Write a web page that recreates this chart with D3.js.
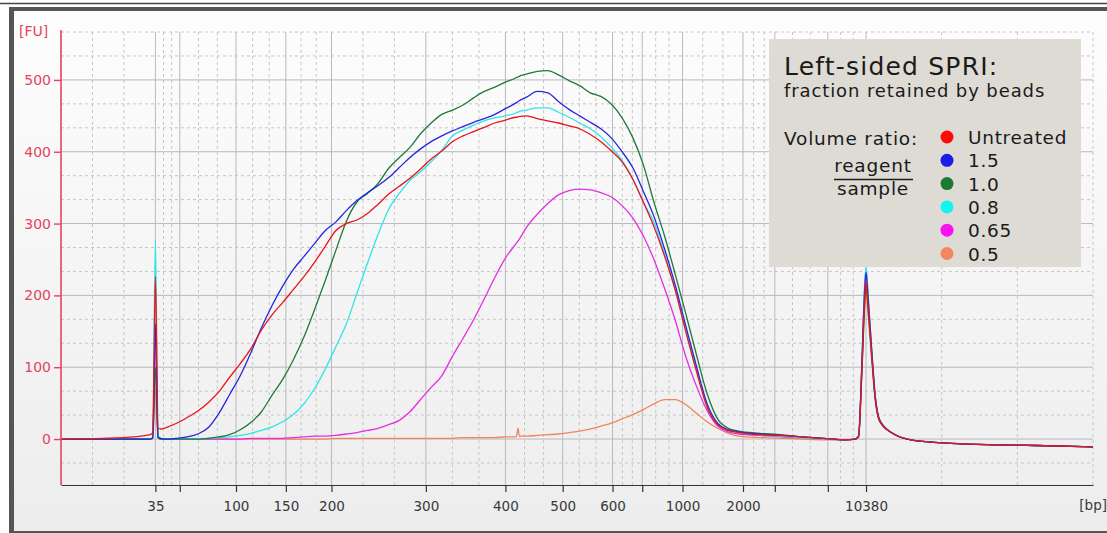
<!DOCTYPE html>
<html>
<head>
<meta charset="utf-8">
<script src="https://cdn.jsdelivr.net/npm/d3@7"></script>
<style>
  body { margin: 0; background: #fff; }
  svg { display: block; }
</style>
</head>
<body>
<div id="chart"></div>
<script>
// ladder: fragment size (bp) and its migration time (s)
const ladderBp   = [35, 50, 100, 150, 200, 300, 400, 500, 600, 700, 1000, 2000, 3000, 7000, 10380];
const ladderTime = [43, 45.3, 50.6, 55.3, 59.6, 68.5, 76.0, 81.4, 86.1, 88.9, 92.7, 98.4, 101.4, 106.4, 110];
const labeledBp  = [35, 100, 150, 200, 300, 400, 500, 600, 1000, 2000, 10380];
const timeRange  = [34.1, 131.4];
const fuTicks    = [0, 100, 200, 300, 400, 500];
const fuRange    = [-64, 566.7];

// sample times (s)
const time = [
  34.1, 38, 41, 42.5, 42.75, 43.0, 43.25, 43.5,
  44, 45, 46, 47, 48, 49, 50, 51, 52, 53, 54, 55, 56, 57, 58, 59, 60,
  61, 62, 63, 64, 65, 66, 67, 68, 69, 70, 71, 72, 73, 74, 75, 76, 77,
  77.1, 77.2, 77.3,
  78, 79, 80, 81, 82, 83, 84, 85, 86, 87, 88, 89, 90, 91, 92, 93, 94, 95, 96, 97, 98,
  100, 102, 104, 106, 108,
  109, 109.3, 109.6, 109.85, 110, 110.2, 110.55, 110.85, 111.3, 112.5, 114.5, 118, 122, 126, 131.4
];

const untreated = [
  0, 1, 3, 6, 9, 226, 15, 14,
  16, 22, 30, 39, 51, 66, 86, 105, 126, 152, 173, 190, 208, 226, 246, 268, 290,
  300, 305, 314, 327, 341, 352, 363, 376, 390, 401, 414, 422, 428, 434, 440, 444, 448,
  448, 449, 449,
  450, 446, 443, 440, 436, 432, 424, 414, 401, 386, 362, 330, 296, 255, 208, 150, 95, 45, 20, 12, 9,
  6, 5, 3, 1, -1,
  0, 4, 95, 190, 220, 185, 115, 60, 25, 8, -2, -6, -8, -9, -11
];
const ratio15 = [
  0, 0, 0, 0, 2, 160, 3, 1,
  0, 1, 3, 7, 16, 36, 62, 88, 120, 155, 186, 213, 236, 254, 272, 290, 302,
  318, 332, 343, 353, 364, 378, 392, 404, 414, 422, 429, 435, 441, 446, 452, 460, 468,
  469, 470, 471,
  476, 484, 482, 470, 459, 450, 441, 432, 419, 400, 378, 345, 310, 265, 215, 158, 102, 50, 22, 13, 10,
  7, 5, 3, 1, -1,
  0, 4, 100, 200, 232, 195, 120, 62, 26, 8, -2, -6, -8, -9, -11
];
const ratio10 = [
  0, 0, 0, 0, 1, 100, 2, 0,
  0, 0, 0, 0, 1, 3, 6, 13, 23, 38, 61, 83, 110, 142, 180, 220, 262,
  303, 330, 342, 356, 377, 392, 406, 425, 440, 452, 458, 465, 475, 484, 490, 497, 503,
  504, 504, 505,
  508, 512, 513, 507, 499, 492, 482, 477, 466, 447, 420, 382, 330, 283, 230, 175, 118, 64, 28, 15, 11,
  8, 6, 3, 1, -1,
  0, 3, 90, 180, 212, 180, 112, 58, 24, 8, -2, -6, -8, -9, -11
];
const ratio08 = [
  0, 0, 0, 0, 3, 277, 5, 1,
  0, 0, 0, 0, 1, 2, 3, 5, 8, 12, 17, 24, 34, 49, 70, 97, 128,
  160, 203, 245, 285, 320, 342, 360, 372, 386, 402, 422, 430, 437, 443, 447, 450, 454,
  455, 455, 456,
  458, 461, 461, 455, 448, 440, 432, 421, 406, 388, 362, 330, 302, 258, 208, 152, 98, 48, 21, 12, 9,
  6, 4, 2, 0, -1,
  0, 5, 105, 210, 240, 200, 122, 64, 26, 8, -2, -6, -8, -9, -11
];
const ratio065 = [
  0, 0, 0, 0, 2, 150, 3, 0,
  0, 0, 0, 0, 0, 0, 0, 0, 1, 1, 1, 1, 2, 3, 4, 4, 5,
  7, 9, 12, 15, 20, 26, 38, 55, 72, 88, 115, 140, 166, 195, 225, 252, 272,
  274, 276, 278,
  295, 313, 328, 340, 346, 348, 347, 343, 337, 325, 308, 283, 250, 210, 166, 115, 74, 40, 18, 10, 7,
  5, 3, 2, 0, -1,
  0, 4, 100, 205, 236, 198, 120, 62, 26, 8, -2, -6, -8, -9, -11
];
const ratio05 = [
  0, 0, 0, 0, 1, 70, 2, 0,
  0, 0, 0, 0, 0, 0, 0, 0, 0, 0, 0, 0, 0, 0, 0, 0, 1,
  1, 1, 1, 1, 1, 1, 1, 1, 1, 1, 1, 2, 2, 2, 2, 3, 3,
  8, 15, 4,
  4, 5, 6, 7, 9, 11, 14, 18, 22, 28, 34, 41, 49, 55, 55, 48, 36, 24, 15, 8, 4,
  2, 1, 0, -1, -1,
  0, 3, 88, 175, 205, 172, 108, 56, 24, 8, -2, -6, -8, -9, -11
];

const seriesNames  = ["Untreated", "1.5", "1.0", "0.8", "0.65", "0.5"];
const seriesValues = [untreated, ratio15, ratio10, ratio08, ratio065, ratio05];
const lineColors   = ["#e8141c", "#2626e0", "#1f7a36", "#30e4e8", "#e32ee3", "#f0845a"];
const dotColors    = ["#ff0a0a", "#1c1ce6", "#1e7a30", "#10f4f4", "#f810f0", "#f4875e"];

const W = 1107, H = 533;
const margin = {left: 61, top: 32, right: 14, bottom: 48};
const plotW = W - margin.left - margin.right;
const plotH = H - margin.top - margin.bottom;
const axisRed = "#e4445a";

const svg = d3.select("#chart").append("svg")
  .attr("width", W).attr("height", H)
  .style("font-family", "'DejaVu Sans', sans-serif");

const grad = svg.append("defs").append("linearGradient")
  .attr("id", "panel").attr("x1", 0).attr("y1", 0).attr("x2", 0).attr("y2", 1);
grad.append("stop").attr("offset", "0%").attr("stop-color", "#fdfdfd");
grad.append("stop").attr("offset", "100%").attr("stop-color", "#ededed");

// window frame
svg.append("line").attr("x1", 0).attr("x2", W).attr("y1", 3.5).attr("y2", 3.5)
  .attr("stroke", "#444").attr("stroke-width", 1.5);
svg.append("rect").attr("x", 9).attr("y", 7).attr("width", W).attr("height", H)
  .attr("fill", "#555");
svg.append("rect").attr("x", 14).attr("y", 11).attr("width", W).attr("height", 520)
  .attr("fill", "url(#panel)");

const g = svg.append("g").attr("transform", `translate(${margin.left},${margin.top})`);

const x = d3.scaleLinear().domain(timeRange).range([0, plotW]);
const y = d3.scaleLinear().domain(fuRange).range([plotH, 0]);
const bpToTime = d3.scaleLinear().domain(ladderBp).range(ladderTime);

// grid: dashed thirds between ladder positions
const bounds = [timeRange[0], ...ladderTime, timeRange[1]];
const minorX = [];
for (let i = 0; i < bounds.length - 1; i++) {
  const a = bounds[i], b = bounds[i + 1];
  minorX.push(a + (b - a) / 3, a + 2 * (b - a) / 3);
}
minorX.push(timeRange[1]);
const minorY = [];
for (let v = -100 / 3; v < fuRange[1] + 1; v += 100 / 3) {
  if (Math.abs(v / 100 - Math.round(v / 100)) > 0.01) minorY.push(v);
}

g.append("g").selectAll("line").data(minorX).join("line")
  .attr("x1", d => x(d)).attr("x2", d => x(d)).attr("y1", 0).attr("y2", plotH)
  .attr("stroke", "#c6c6c6").attr("stroke-dasharray", "3,3");
g.append("g").selectAll("line").data(minorY).join("line")
  .attr("x1", 0).attr("x2", plotW).attr("y1", d => y(d)).attr("y2", d => y(d))
  .attr("stroke", "#c6c6c6").attr("stroke-dasharray", "3,3");
g.append("g").selectAll("line").data(ladderTime).join("line")
  .attr("x1", d => x(d)).attr("x2", d => x(d)).attr("y1", 0).attr("y2", plotH)
  .attr("stroke", "#b8b8c0");
g.append("g").selectAll("line").data(fuTicks).join("line")
  .attr("x1", 0).attr("x2", plotW).attr("y1", d => y(d)).attr("y2", d => y(d))
  .attr("stroke", "#b8b8c0");

// traces
const line = d3.line()
  .x((d, i) => x(time[i]))
  .y(d => y(d))
  .curve(d3.curveMonotoneX);

const order = [5, 4, 3, 2, 1, 0];
g.append("g").selectAll("path").data(order).join("path")
  .attr("fill", "none")
  .attr("stroke", i => lineColors[i])
  .attr("stroke-width", 1.3)
  .attr("d", i => line(seriesValues[i]));

// x axis
const xAxis = g.append("g").attr("transform", `translate(0,${plotH})`)
  .call(d3.axisBottom(x)
    .tickValues(ladderBp.map(bp => bpToTime(bp)))
    .tickFormat((d, i) => labeledBp.includes(ladderBp[i]) ? ladderBp[i] : "")
    .tickSize(7).tickSizeOuter(0).tickPadding(9));
xAxis.select(".domain").attr("stroke", "#333").attr("stroke-width", 1.2);
xAxis.selectAll(".tick line").attr("stroke", "#333").attr("stroke-width", 1.2);
xAxis.selectAll("text").attr("fill", "#383838")
  .style("font-family", "'DejaVu Sans', sans-serif").style("font-size", "13.5px");
g.append("text").attr("x", plotW + 14).attr("y", plotH + 25)
  .attr("text-anchor", "end").attr("fill", "#383838").style("font-size", "13.5px")
  .text("[bp]");

// y axis
const yAxis = g.append("g")
  .call(d3.axisLeft(y).tickValues(fuTicks).tickSize(7).tickSizeOuter(0).tickPadding(3));
yAxis.select(".domain").attr("stroke", axisRed).attr("stroke-width", 1.6)
  .attr("d", `M0,${plotH}V-2`);
yAxis.selectAll(".tick line").attr("stroke", axisRed).attr("stroke-width", 1.4);
yAxis.selectAll("text").attr("fill", axisRed)
  .style("font-family", "'DejaVu Sans', sans-serif").style("font-size", "14px");
svg.append("text").attr("x", 19).attr("y", 36).attr("fill", axisRed)
  .style("font-size", "14px").text("[FU]");

// legend
const ink = "#1a1a1a";
const lg = svg.append("g").attr("transform", "translate(769,39)");
lg.append("rect").attr("width", 312).attr("height", 228).attr("fill", "#dedbd5");
lg.append("text").attr("x", 15).attr("y", 36).attr("fill", ink)
  .style("font-size", "25px").style("letter-spacing", "1.2px").text("Left-sided SPRI:");
lg.append("text").attr("x", 15).attr("y", 58).attr("fill", ink)
  .style("font-size", "18px").style("letter-spacing", "0.9px").text("fraction retained by beads");
lg.append("text").attr("x", 15).attr("y", 106).attr("fill", ink)
  .style("font-size", "18.5px").style("letter-spacing", "0.8px").text("Volume ratio:");
lg.append("text").attr("x", 104).attr("y", 133).attr("text-anchor", "middle")
  .attr("fill", ink).style("font-size", "18.5px").style("letter-spacing", "0.8px").text("reagent");
lg.append("line").attr("x1", 65).attr("x2", 144).attr("y1", 140.5).attr("y2", 140.5)
  .attr("stroke", ink).attr("stroke-width", 1.3);
lg.append("text").attr("x", 104).attr("y", 156).attr("text-anchor", "middle")
  .attr("fill", ink).style("font-size", "18.5px").style("letter-spacing", "0.8px").text("sample");

const items = lg.selectAll("g.item").data(seriesNames).join("g")
  .attr("class", "item")
  .attr("transform", (d, i) => `translate(178,${98 + i * 23.3})`);
items.append("circle").attr("r", 6.5).attr("fill", (d, i) => dotColors[i]);
items.append("text").attr("x", 21).attr("y", 7).attr("fill", ink)
  .style("font-size", "18.5px").style("letter-spacing", "0.7px").text(d => d);
</script>
</body>
</html>
